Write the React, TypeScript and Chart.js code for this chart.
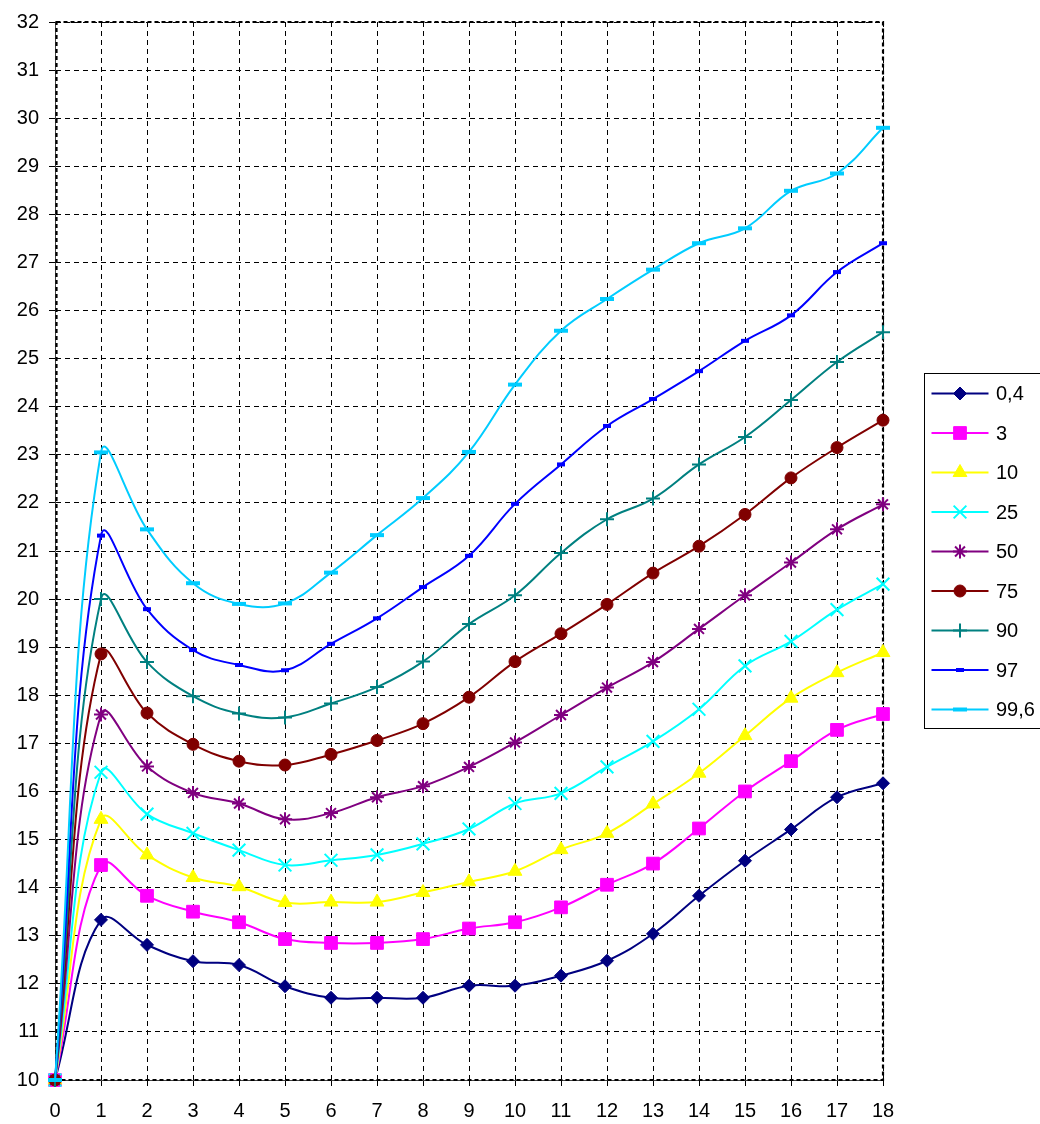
import React, { useEffect, useRef } from 'react';
import { Chart, registerables } from 'chart.js';
import { drawPoint } from 'chart.js/helpers';

Chart.register(...registerables);

// ---- data ----
const ages = ['0', '1', '2', '3', '4', '5', '6', '7', '8', '9', '10', '11', '12', '13', '14', '15', '16', '17', '18'];

const p0_4 = [10, 13.33, 12.81, 12.47, 12.39, 11.95, 11.71, 11.71, 11.71, 11.96, 11.96, 12.17, 12.48, 13.04, 13.83, 14.56, 15.21, 15.88, 16.17];
const p3 = [10, 14.47, 13.83, 13.5, 13.28, 12.93, 12.85, 12.85, 12.93, 13.15, 13.28, 13.59, 14.06, 14.5, 15.23, 16.0, 16.63, 17.28, 17.61];
const p10 = [10, 15.42, 14.68, 14.21, 14.02, 13.69, 13.7, 13.7, 13.9, 14.12, 14.34, 14.79, 15.13, 15.74, 16.38, 17.16, 17.94, 18.47, 18.89];
const p25 = [10, 16.4, 15.53, 15.13, 14.78, 14.47, 14.57, 14.68, 14.91, 15.22, 15.75, 15.96, 16.51, 17.04, 17.71, 18.61, 19.12, 19.78, 20.31];
const p50 = [10, 17.6, 16.52, 15.97, 15.75, 15.42, 15.55, 15.88, 16.11, 16.51, 17.02, 17.59, 18.16, 18.69, 19.38, 20.08, 20.76, 21.45, 21.97];
const p75 = [10, 18.86, 17.63, 16.98, 16.63, 16.55, 16.77, 17.06, 17.41, 17.96, 18.7, 19.28, 19.89, 20.54, 21.1, 21.76, 22.52, 23.15, 23.72];
const p90 = [10, 20.0, 18.69, 17.98, 17.62, 17.54, 17.83, 18.17, 18.7, 19.48, 20.08, 20.96, 21.66, 22.09, 22.8, 23.37, 24.14, 24.93, 25.55];
const p97 = [10, 21.32, 19.79, 18.94, 18.63, 18.52, 19.07, 19.6, 20.25, 20.9, 21.98, 22.8, 23.6, 24.16, 24.74, 25.37, 25.9, 26.8, 27.4];
const p99_6 = [10, 23.05, 21.45, 20.33, 19.9, 19.91, 20.55, 21.33, 22.1, 23.06, 24.46, 25.58, 26.24, 26.85, 27.4, 27.71, 28.49, 28.85, 29.8];

const seriesValues = [p0_4, p3, p10, p25, p50, p75, p90, p97, p99_6];
const seriesNames = ['0,4', '3', '10', '25', '50', '75', '90', '97', '99,6'];

const yMin = 10;
const yMax = 32;

// ---- styles ----
const seriesColors = ['#000080', '#FF00FF', '#FFFF00', '#00FFFF', '#800080', '#800000', '#008080', '#0000FF', '#00CCFF'];
const pointStyles = ['rectRot', 'rect', 'triangle', 'crossRot', 'star', 'circle', 'cross', 'line', 'line'];
const pointRadii = [6.5, 9, 8, 9, 7, 6, 7, 4, 7];
const pointBorderWidths = [1, 1, 1, 2, 2, 1, 2, 4, 4];

const FONT = '"Liberation Sans", Arial, sans-serif';

const frameLegendPlugin = {
  id: 'frameLegend',
  beforeDatasetsDraw(chart: any) {
    const { ctx, chartArea } = chart;
    ctx.save();
    ctx.strokeStyle = '#000';
    ctx.lineWidth = 2.2;
    ctx.setLineDash([4, 3]);
    ctx.strokeRect(chartArea.left + 1.5, chartArea.top, chartArea.right - chartArea.left - 1.5, chartArea.bottom - chartArea.top);
    ctx.restore();
  },
  afterDraw(chart: any) {
    const { ctx, chartArea } = chart;
    ctx.save();
    const boxX = chartArea.right + 41.5;
    const boxY = 373.5;
    ctx.strokeStyle = '#000';
    ctx.lineWidth = 1;
    ctx.setLineDash([]);
    ctx.strokeRect(boxX, boxY, 140, 355);
    ctx.font = '20px ' + FONT;
    ctx.textBaseline = 'middle';
    ctx.textAlign = 'left';
    chart.data.datasets.forEach((ds: any, i: number) => {
      const y = 393.5 + i * 39.5;
      const x0 = boxX + 7;
      const x1 = boxX + 64;
      ctx.strokeStyle = ds.borderColor;
      ctx.lineWidth = 2;
      ctx.beginPath();
      ctx.moveTo(x0, y);
      ctx.lineTo(x1, y);
      ctx.stroke();
      ctx.fillStyle = ds.pointBackgroundColor;
      ctx.strokeStyle = ds.pointBorderColor;
      ctx.lineWidth = ds.pointBorderWidth;
      drawPoint(ctx, { pointStyle: ds.pointStyle, radius: ds.pointRadius, rotation: 0, borderWidth: ds.pointBorderWidth } as any, (x0 + x1) / 2, y);
      ctx.fillStyle = '#000';
      ctx.fillText(ds.label, boxX + 71.5, y + 1);
    });
    ctx.restore();
  },
};

export default function App() {
  const canvasRef = useRef<HTMLCanvasElement | null>(null);

  useEffect(() => {
    if (!canvasRef.current) return;
    const datasets = seriesValues.map((vals, i) => ({
      label: seriesNames[i],
      data: vals,
      borderColor: seriesColors[i],
      backgroundColor: seriesColors[i],
      pointBackgroundColor: seriesColors[i],
      pointBorderColor: seriesColors[i],
      pointStyle: pointStyles[i],
      pointRadius: pointRadii[i],
      pointBorderWidth: pointBorderWidths[i],
      borderWidth: 2,
      tension: 0.4,
      fill: false,
      clip: false as any,
      order: seriesValues.length - i,
    }));

    const chart = new Chart(canvasRef.current, {
      type: 'line',
      data: { labels: ages, datasets: datasets as any },
      options: {
        animation: false,
        responsive: false,
        events: [],
        layout: { padding: { top: 18, right: 157, left: 0, bottom: 0 } },
        plugins: {
          legend: { display: false },
          tooltip: { enabled: false },
        },
        scales: {
          x: {
            type: 'category',
            offset: false,
            grid: {
              color: '#000',
              lineWidth: 1,
              drawTicks: true,
              tickLength: 6,
              tickColor: '#000',
              tickBorderDash: [],
            } as any,
            border: { display: true, color: '#444', width: 1, dash: [5, 4] },
            ticks: {
              autoSkip: false,
              maxRotation: 0,
              minRotation: 0,
              padding: 13,
              color: '#000',
              font: { family: FONT, size: 20 },
            },
            afterFit: (s: any) => {
              s.height = 44;
            },
          },
          y: {
            type: 'linear',
            min: yMin,
            max: yMax,
            grid: {
              color: '#000',
              lineWidth: 1,
              drawTicks: true,
              tickLength: 6,
              tickColor: '#000',
              tickBorderDash: [],
            } as any,
            border: { display: true, color: '#444', width: 1, dash: [5, 4] },
            ticks: {
              stepSize: 1,
              padding: 10,
              color: '#000',
              font: { family: FONT, size: 20 },
            },
            afterFit: (s: any) => {
              s.width = 55;
            },
          },
        },
      },
      plugins: [frameLegendPlugin],
    });
    return () => chart.destroy();
  }, []);

  return (
    <div style={{ position: 'absolute', left: 0, top: 0, width: 1040, height: 1124, background: '#fff' }}>
      <canvas ref={canvasRef} width={1040} height={1124} style={{ display: 'block', width: 1040, height: 1124 }} />
    </div>
  );
}
